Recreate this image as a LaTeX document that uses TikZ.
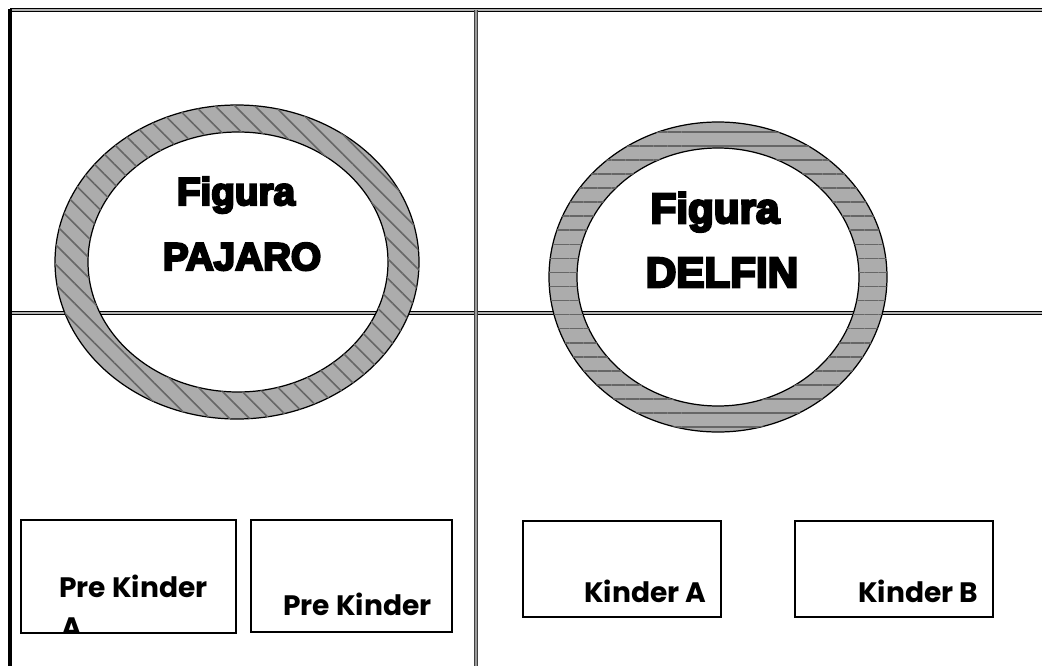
\documentclass[tikz,border=0pt]{standalone}
\usepackage{fontspec}
\setmainfont{Liberation Sans}
\newfontfamily\figfont{Liberation Sans}[BoldFeatures={FakeBold=6}]
\newfontfamily\kidfont{Poppins}
\usetikzlibrary{patterns.meta}

\begin{document}
\begin{tikzpicture}[x=0.02cm,y=-0.02cm,
  rule/.style={line width=0.6pt,double=gray!60,double distance=0.7pt},
  ring/.style={draw=black,line width=0.7pt,even odd rule,fill=gray!65,
    postaction={pattern={Lines[angle=#1,distance=8pt,line width=0.9pt]},pattern color=black!60}},
  classbox/.style={draw,line width=0.8pt},
  fig/.style={font=\figfont\bfseries\fontsize{#1}{#1}\selectfont,anchor=base,inner sep=0pt},
  kid/.style={font=\kidfont\bfseries\fontsize{16}{19}\selectfont,anchor=base west,inner sep=0pt}]
  \useasboundingbox (0,0) rectangle (1042,666);
  % table
  \coordinate (tl) at (10,10);
  \coordinate (tr) at (1042,10);
  \coordinate (ml) at (10,313);
  \coordinate (mr) at (1042,313);
  \coordinate (bl) at (10,666);
  \draw[rule] (tl) -- (tr);
  \draw[rule] (ml) -- (mr);
  \draw[rule,draw=black!75,double=gray!80] (476,10) -- (476,666);
  \draw[line width=2.3pt] (10,9) -- (bl);
  % rings
  \path[ring=-45] (237,262) ellipse [x radius=182,y radius=157]
    (238,262) ellipse [x radius=150,y radius=130];
  \path[ring=0] (718,277) ellipse [x radius=169,y radius=155]
    (718,277) ellipse [x radius=141,y radius=129];
  \node[fig=22] (pajaro1) at (236,205) {Figura};
  \node[fig=22] (pajaro2) at (242,270) {PAJARO};
  \node[fig=24] (delfin1) at (715,223) {Figura};
  \node[fig=24] (delfin2) at (722,287) {DELFIN};
  % boxes
  \draw[classbox] (21,520) rectangle (236,633);
  \draw[classbox] (251,520) rectangle (452,632);
  \draw[classbox] (523,521) rectangle (721,617);
  \draw[classbox] (795,521) rectangle (993,617);
  \node[kid] (prekinderA) at (59,597) {Pre Kinder};
  \begin{scope}
    \clip (21,520) rectangle (236,633);
    \node[kid] (prekinderA2) at (61,637) {A};
  \end{scope}
  \node[kid] (prekinder) at (283,615) {Pre Kinder};
  \node[kid] (kinderA) at (584,602) {Kinder A};
  \node[kid] (kinderB) at (858,602) {Kinder B};
\end{tikzpicture}
\end{document}
